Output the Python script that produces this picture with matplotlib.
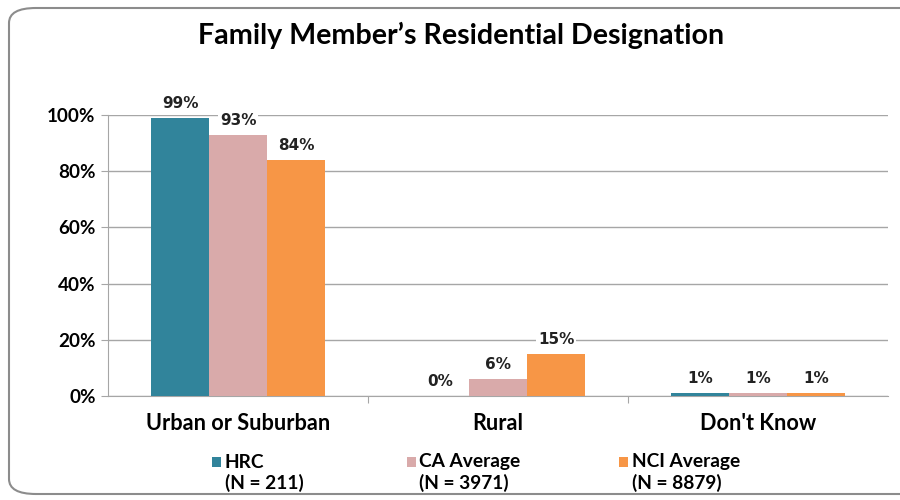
import matplotlib.pyplot as plt
from matplotlib.patches import FancyBboxPatch, Rectangle
import numpy as np

categories = ["Urban or Suburban", "Rural", "Don't Know"]
series_names = ["HRC", "CA Average", "NCI Average"]
series_counts = ["(N = 211)", "(N = 3971)", "(N = 8879)"]
hrc = [99, 0, 1]
ca_avg = [93, 6, 1]
nci_avg = [84, 15, 1]
colors = ["#31849B", "#D9AAAA", "#F79646"]

narrow = ["Lato", "DejaVu Sans"]

fig = plt.figure(figsize=(9, 5), dpi=100)
ax = fig.add_axes([0.12, 0.208, 0.867, 0.562])

# rounded frame around the whole chart
frame = FancyBboxPatch((0.01, 0.012), 1.05, 0.972, boxstyle="round,pad=0,rounding_size=0.03",
                       transform=fig.transFigure, facecolor="none", edgecolor="#8C8C8C",
                       linewidth=1.5, zorder=0)
fig.patches.append(frame)

x = np.arange(len(categories))
w = 0.223
for i, vals in enumerate([hrc, ca_avg, nci_avg]):
    pos = x + (i - 1) * w
    ax.bar(pos, [v / 100 for v in vals], width=w, color=colors[i], zorder=3)
    for p, v in zip(pos, vals):
        ax.text(p, v / 100 + 0.025, f"{v}%", ha="center", va="bottom", fontsize=11,
                fontweight="bold", color="#222222", zorder=4, clip_on=False,
                bbox=dict(facecolor="white", edgecolor="none", pad=1.5))

ax.set_xlim(-0.5, 2.5)
ax.set_ylim(0, 1)
ax.set_yticks(np.arange(0, 1.01, 0.2))
ax.set_yticklabels([f"{int(t * 100)}%" for t in np.arange(0, 1.01, 0.2)],
                   fontsize=13.6, fontweight="bold", family=narrow)
ax.yaxis.grid(True, color="#A6A6A6", linewidth=1, zorder=0)
ax.set_axisbelow(True)
ax.set_xticks([0.5, 1.5])
ax.set_xticklabels([])
ax.tick_params(axis="x", length=5, color="#A6A6A6")
ax.tick_params(axis="y", length=5, color="#A6A6A6", pad=4)
for c, xc in zip(categories, x):
    ax.text(xc, -0.06, c, ha="center", va="top", fontsize=15.6, fontweight="bold",
            family=narrow, transform=ax.get_xaxis_transform())
for s in ["top", "right"]:
    ax.spines[s].set_visible(False)
ax.spines["left"].set_color("#A6A6A6")
ax.spines["bottom"].set_color("#A6A6A6")

fig.text(0.512, 0.93, "Family Member\u2019s Residential Designation", ha="center", va="center",
         fontsize=20.6, fontweight="bold", family=narrow)

# legend
leg_x = [0.25, 0.466, 0.702]
for lx, name, n, col in zip(leg_x, series_names, series_counts, colors):
    fig.patches.append(Rectangle((lx - 0.014, 0.066), 0.01, 0.02, transform=fig.transFigure,
                                 facecolor=col, edgecolor="none"))
    fig.text(lx, 0.076, name, ha="left", va="center", fontsize=13.8, fontweight="bold", family=narrow)
    fig.text(lx, 0.034, n, ha="left", va="center", fontsize=13.8, fontweight="bold", family=narrow)

fig.savefig("out.png", dpi=100)
